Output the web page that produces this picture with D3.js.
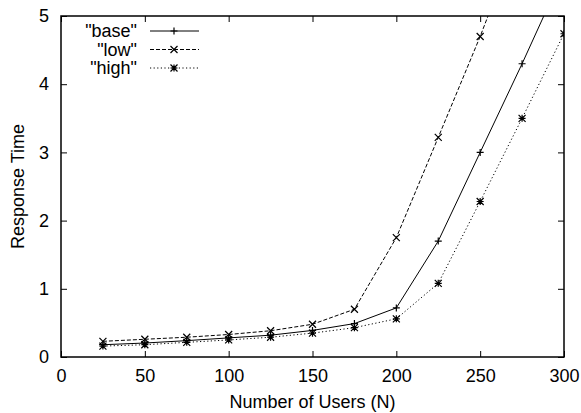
<!DOCTYPE html>
<html>
<head>
<meta charset="utf-8">
<script src="https://cdn.jsdelivr.net/npm/d3@7"></script>
<style>
  body { margin: 0; background: #fff; }
  text { font-family: "Liberation Sans", Arial, sans-serif; font-size: 18px; fill: #000; }
</style>
</head>
<body>
<div id="chart"></div>
<script>
// data
var users = [25, 50, 75, 100, 125, 150, 175, 200, 225, 250, 275, 300];
var baseTimes = [0.18, 0.205, 0.24, 0.28, 0.32, 0.39, 0.49, 0.72, 1.70, 3.00, 4.30, 5.65];
var lowTimes = [0.23, 0.26, 0.29, 0.33, 0.385, 0.48, 0.70, 1.75, 3.22, 4.70, 6.30];
var highTimes = [0.16, 0.18, 0.215, 0.25, 0.29, 0.35, 0.43, 0.56, 1.08, 2.28, 3.50, 4.74];
var xTicks = [0, 50, 100, 150, 200, 250, 300];
var yTicks = [0, 1, 2, 3, 4, 5];

var series = [
  { name: '"base"', values: baseTimes, dash: null, marker: 'plus' },
  { name: '"low"', values: lowTimes, dash: '4,2', marker: 'cross' },
  { name: '"high"', values: highTimes, dash: '1.2,2.4', marker: 'star' }
];

var w = 581, h = 413;
var margin = { top: 16, right: 17, bottom: 56, left: 61 };

var svg = d3.select('#chart').append('svg')
  .attr('width', w)
  .attr('height', h);

var x = d3.scaleLinear().domain([0, 300]).range([margin.left, w - margin.right]);
var y = d3.scaleLinear().domain([0, 5]).range([h - margin.bottom, margin.top]);

svg.append('clipPath').attr('id', 'plot-clip')
  .append('rect')
    .attr('x', x(0)).attr('y', y(5))
    .attr('width', x(300) - x(0)).attr('height', y(0) - y(5));

// axes, ticks pointing inward, mirrored on top / right
svg.append('g')
  .attr('transform', 'translate(0,' + y(0) + ')')
  .call(d3.axisBottom(x).tickValues(xTicks).tickFormat(d3.format('d')).tickSizeInner(-6).tickSizeOuter(0).tickPadding(12))
  .call(function(g) { g.select('.domain').remove(); });

svg.append('g')
  .attr('transform', 'translate(0,' + y(5) + ')')
  .call(d3.axisTop(x).tickValues(xTicks).tickSizeInner(-6).tickSizeOuter(0).tickFormat(''))
  .call(function(g) { g.select('.domain').remove(); });

svg.append('g')
  .attr('transform', 'translate(' + x(0) + ',0)')
  .call(d3.axisLeft(y).tickValues(yTicks).tickFormat(d3.format('d')).tickSizeInner(-6).tickSizeOuter(0).tickPadding(12))
  .call(function(g) { g.select('.domain').remove(); });

svg.append('g')
  .attr('transform', 'translate(' + x(300) + ',0)')
  .call(d3.axisRight(y).tickValues(yTicks).tickSizeInner(-6).tickSizeOuter(0).tickFormat(''))
  .call(function(g) { g.select('.domain').remove(); });

svg.selectAll('.tick text')
  .attr('font-family', '"Liberation Sans", Arial, sans-serif')
  .attr('font-size', 18);
svg.selectAll('.tick line').attr('stroke', '#000');

// frame
svg.append('rect')
  .attr('x', x(0)).attr('y', y(5))
  .attr('width', x(300) - x(0)).attr('height', y(0) - y(5))
  .attr('fill', 'none')
  .attr('stroke', '#000')
  .attr('stroke-width', 1.5);

// marker shapes
function drawMarker(g, type, cx, cy) {
  var s = 3.5;
  var p = '';
  if (type == 'plus' || type == 'star') {
    p += 'M' + (cx - s) + ',' + cy + 'H' + (cx + s) + 'M' + cx + ',' + (cy - s) + 'V' + (cy + s);
  }
  if (type == 'cross' || type == 'star') {
    p += 'M' + (cx - s) + ',' + (cy - s) + 'L' + (cx + s) + ',' + (cy + s) +
         'M' + (cx - s) + ',' + (cy + s) + 'L' + (cx + s) + ',' + (cy - s);
  }
  g.append('path').attr('d', p).attr('stroke', '#000').attr('stroke-width', 1.2).attr('fill', 'none');
}

var line = d3.line()
  .x(function(d, i) { return x(users[i]); })
  .y(function(d) { return y(d); });

var plot = svg.append('g').attr('clip-path', 'url(#plot-clip)');

series.forEach(function(s) {
  plot.append('path')
    .attr('d', line(s.values))
    .attr('fill', 'none')
    .attr('stroke', '#000')
    .attr('stroke-width', 1)
    .attr('stroke-dasharray', s.dash);
  s.values.forEach(function(v, i) {
    drawMarker(plot, s.marker, x(users[i]), y(v));
  });
});

// legend
var legend = svg.append('g');
series.forEach(function(s, i) {
  var ly = 31 + i * 18.5;
  legend.append('text')
    .attr('x', 137).attr('y', ly + 6)
    .attr('text-anchor', 'end')
    .text(s.name);
  legend.append('line')
    .attr('x1', 150).attr('x2', 199)
    .attr('y1', ly).attr('y2', ly)
    .attr('stroke', '#000')
    .attr('stroke-width', 1)
    .attr('stroke-dasharray', s.dash);
  drawMarker(legend, s.marker, 174, ly);
});

// axis titles
svg.append('text')
  .attr('x', (x(0) + x(300)) / 2)
  .attr('y', 408)
  .attr('text-anchor', 'middle')
  .text('Number of Users (N)');

svg.append('text')
  .attr('transform', 'translate(24,' + ((y(0) + y(5)) / 2) + ') rotate(-90)')
  .attr('text-anchor', 'middle')
  .text('Response Time');
</script>
</body>
</html>
